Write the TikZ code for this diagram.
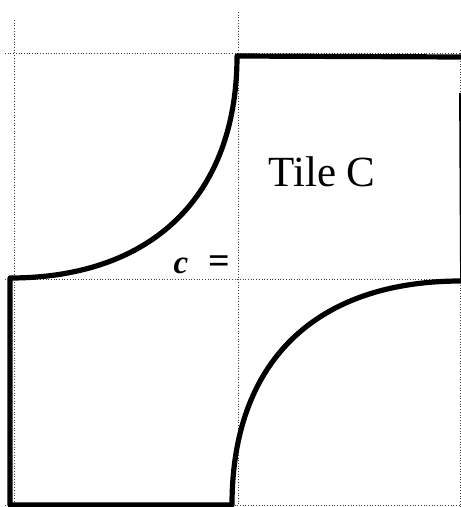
\documentclass[tikz,border=0pt]{standalone}
\usepackage{fontspec}
\setmainfont{Liberation Serif}
\begin{document}
\begin{tikzpicture}[x=1pt,y=-1pt,
  grid/.style={draw=black!75,line width=0.7pt,dotted},
  thickline/.style={draw=black,line width=5.2pt,line cap=round,line join=round},
  thinline/.style={draw=black,line width=1.8pt}]
\useasboundingbox (0,0) rectangle (461,507);
% dotted grid
\draw[grid] (14,20) -- (14,505);
\draw[grid] (238,12) -- (238,505);
\draw[grid] (460,50) -- (460,507);
\draw[grid] (5,53) -- (461,53);
\draw[grid] (5,279) -- (461,279);
\draw[grid] (5,505) -- (461,505);
% named corner coordinates
\coordinate (ua) at (237,56);
\coordinate (ub) at (10,278);
\coordinate (tr) at (461,57);
\coordinate (bl) at (10,505);
\coordinate (la) at (232,505);
\coordinate (lb) at (461,281);
\coordinate (rt) at (460,93);
% thick outline
\draw[thickline] (tr) -- (ua) .. controls (237,196) and (152,278) .. (ub) -- (bl) -- (la)
  .. controls (232,362) and (315,281) .. (lb);
\draw[thinline] (rt) -- (lb);
% texts
\node[anchor=base,font=\fontsize{43}{43}\selectfont,inner sep=0pt] (tile) at (322,186) {Tile C};
\node[anchor=base,font=\fontsize{33}{33}\selectfont\bfseries\itshape,inner sep=0pt] (cc) at (181,273) {c};
\node[anchor=base,font=\fontsize{38}{38}\selectfont\bfseries,inner sep=0pt] (eq) at (219,273) {=};
\end{tikzpicture}
\end{document}
